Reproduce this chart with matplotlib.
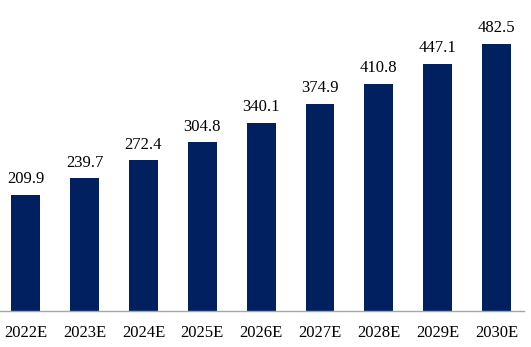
import numpy as np
import matplotlib.pyplot as plt

years = ['2022E', '2023E', '2024E', '2025E', '2026E', '2027E', '2028E', '2029E', '2030E']
values = [209.9, 239.7, 272.4, 304.8, 340.1, 374.9, 410.8, 447.1, 482.5]

plt.rcParams['font.family'] = ['Liberation Serif', 'DejaVu Serif']

fig = plt.figure(figsize=(5.31, 3.47), dpi=100)
ax = fig.add_axes([0, 36 / 347, 524 / 531, 311 / 347])

x = np.arange(len(years))
ax.bar(x, values, width=0.49, color='#002060')
for xi, v in zip(x, values):
    ax.text(xi, v + 14, f'{v:.1f}', ha='center', va='bottom', fontsize=12)

ax.set_xlim(-0.44, 8.47)
ax.set_ylim(0, 562)
ax.set_xticks(x)
ax.set_xticklabels(years, fontsize=12)
ax.tick_params(axis='x', length=0, pad=10)
ax.set_yticks([])
for s in ['top', 'right', 'left']:
    ax.spines[s].set_visible(False)
ax.spines['bottom'].set_color('#a6a6a6')
ax.spines['bottom'].set_linewidth(1)

fig.savefig('out.png', dpi=100)
